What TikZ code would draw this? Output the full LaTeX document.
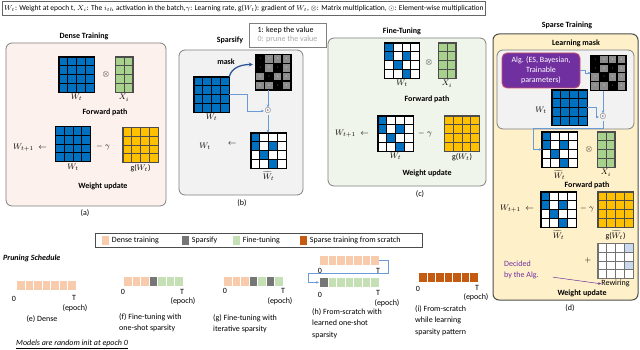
\documentclass[tikz,border=0pt]{standalone}
\usepackage{fontspec}
\setmainfont{Carlito}
\usepackage{amsmath,amssymb}
\usetikzlibrary{arrows.meta,calc,positioning}
\definecolor{wblue}{HTML}{0070C0}
\definecolor{xgreen}{HTML}{A9D18E}
\definecolor{gyellow}{HTML}{FFC000}
\definecolor{maskgray}{HTML}{8C8C8C}
\definecolor{rewblue}{HTML}{C9D9EE}
\definecolor{linkblue}{HTML}{6A9BD8}
\definecolor{maskblue}{HTML}{2F5597}
\definecolor{abg}{HTML}{FCF1EC}
\definecolor{bbg}{HTML}{F2F2F2}
\definecolor{cbg}{HTML}{EFF5EA}
\definecolor{dbg}{HTML}{FEF0C9}
\definecolor{algpurple}{HTML}{7030A0}
\definecolor{algedge}{HTML}{D0506A}
\definecolor{dense}{HTML}{F8CBAD}
\definecolor{spars}{HTML}{767676}
\definecolor{fine}{HTML}{C5E0B4}
\definecolor{scratch}{HTML}{C55A11}
% 4 rows of 8.75pt cells
\newcommand{\densemat}[5]{%
  \node[matnode, minimum width=#3*8.75pt, fill=#4] (#1) at #2 {};
  \draw[#5, step=8.75pt, shift={(#1.north west)}] (0,0) grid (#3*8.75pt,-35pt);
  \draw[#5, line width=0.8pt] (#1.north west) rectangle (#1.south east);
}
\newcommand{\sparsemat}[5]{%
  \node[matnode, minimum width=35pt, fill=white] (#1) at #2 {};
  \foreach \c/\r in {#3}
    \fill[#4] ($(#1.north west)+({(\c-1)*8.75pt},{-(\r-1)*8.75pt})$) rectangle ++(8.75pt,-8.75pt);
  \draw[#5, step=8.75pt, shift={(#1.north west)}] (0,0) grid (35pt,-35pt);
  \draw[#5, line width=0.8pt] (#1.north west) rectangle (#1.south east);
}
\newcommand{\maskmat}[3]{%
  \node[matnode, minimum width=35pt, fill=maskgray] (#1) at #2 {};
  \foreach \c in {1,...,4}
    \foreach \r in {1,...,4}
      \node[digit, text=white!80!maskgray] at ($(#1.north west)+({(\c-0.5)*8.75pt},{-(\r-0.5)*8.75pt})$) {0};
  \foreach \c/\r in {#3} {
    \fill[black] ($(#1.north west)+({(\c-1)*8.75pt},{-(\r-1)*8.75pt})$) rectangle ++(8.75pt,-8.75pt);
    \node[digit, text=gray!70] at ($(#1.north west)+({(\c-0.5)*8.75pt},{-(\r-0.5)*8.75pt})$) {1};
  }
  \draw[black, line width=1.2pt, step=8.75pt, shift={(#1.north west)}] (0,0) grid (35pt,-35pt);
  \draw[black, line width=1.2pt] (#1.north west) rectangle (#1.south east);
}
\newcommand{\schedbar}[4]{%
  \foreach \col [count=\k] in {#4}
    \node[slot, fill=\col] (#1-\k) at ({#2+(\k-1)*8.5},#3) {};
}

\begin{document}
\begin{tikzpicture}[x=1pt,y=-1pt,>=Stealth,font=\fontsize{8}{9.5}\selectfont,
  matnode/.style={inner sep=0pt, minimum height=35pt, draw=none},
  digit/.style={inner sep=0pt, font=\fontsize{2.5}{3}\selectfont},
  panel/.style={rounded corners=6pt, draw=black!50, line width=0.8pt},
  title/.style={font=\fontsize{8}{9.5}\selectfont\bfseries},
  lbl/.style={inner sep=1pt},
  conn/.style={draw=linkblue, line width=0.6pt, -{Stealth[length=3pt,width=2.6pt]}},
  slot/.style={anchor=north west, inner sep=0pt, minimum width=8.5pt, minimum height=10pt, draw=white, line width=0.7pt},
  keysq/.style={inner sep=0pt, minimum width=7pt, minimum height=9pt},
  caption/.style={anchor=north west, align=left, inner sep=0pt, font=\fontsize{8}{11.5}\selectfont}]
  \useasboundingbox (0,0) rectangle (640,350);

  % symbols
  \node[draw=black!60, anchor=west, minimum height=14pt, inner xsep=2pt, font=\fontsize{7.5}{8.5}\selectfont] (defs) at (2,8)
    {$W_t$: Weight at epoch t, $X_i$: The $i_{th}$ activation in the batch,$\gamma$: Learning rate, g($W_t$): gradient of $W_t$, $\otimes$: Matrix multiplication, $\odot$: Element-wise multiplication};

  % (a) dense training
  \draw[panel, fill=abg] (6,43) rectangle (166,206);
  \node[title] (ta) at (84,36) {Dense Training};
  \densemat{wa}{(76.5,74.5)}{4}{wblue}{black}
  \node (mula) at (106,75) {$\otimes$};
  \densemat{xa}{(124,74.5)}{2}{xgreen}{black!70}
  \node[lbl, below=1pt of wa] (lwa) {$W_t$};
  \node[lbl, below=1pt of xa] (lxa) {$X_i$};
  \node[title] (fpa) at (105,112) {Forward path};
  \node (wna) at (30,148) {$W_{t+1}\;\leftarrow$};
  \densemat{wa2}{(73,144)}{4}{wblue}{black}
  \node (mina) at (103,147) {$-\;\gamma$};
  \densemat{gya}{(140.5,145)}{4}{gyellow}{black!70}
  \node[lbl, below=1pt of wa2] (lwa2) {$W_t$};
  \node[lbl, below=1pt of gya] (lgya) {g($W_t$)};
  \node[title] (wua) at (103,186) {Weight update};
  \node (capa) at (85,213) {(a)};

  % (b) sparsify
  \draw[panel, fill=bbg] (179,50) rectangle (303,195);
  \node[title] (tb) at (230,40) {Sparsify};
  \node[draw=black!50, line width=0.6pt, align=left, inner sep=2pt, minimum width=77pt, minimum height=24pt] (keyb) at (287.5,35)
    {1: keep the value\\\textcolor{black!35}{0: prune the value}};
  \densemat{wb}{(211.5,94.5)}{4}{wblue}{black}
  \node[lbl, below=1pt of wb] (lwb) {$W_t$};
  \maskmat{mb}{(273.5,72.5)}{1/1,1/2,3/2,2/3,3/4}
  \node[title] (mlb) at (226,62) {mask};
  \node[inner sep=0.5pt] (ob) at (268,111) {$\odot$};
  \sparsemat{sb}{(268.5,150.5)}{1/1,1/2,3/2,2/3,3/4}{wblue}{black}
  \node[lbl, below=2.5pt of sb] (lsb) {$\widetilde{W}_t$};
  \node (wlb) at (205,146) {$W_t$};
  \node (arb) at (232,144) {$\leftarrow$};
  \node (capb) at (242,203) {(b)};
  \draw[conn] (wb.east) -- (247,94.5) |- (ob.west);
  \draw[conn] (ob |- mb.south) -- (ob.north);
  \draw[conn] (ob.south) -- (ob |- sb.north);
  \draw[maskblue, line width=1.3pt, -{Stealth[length=4pt,width=4pt]}] (wb.north east) to[out=75,in=180] ($(mb.west)+(-3pt,8pt)$);

  % (c) fine-tuning
  \draw[panel, fill=cbg] (328,38) rectangle (486,186);
  \node[title] (tc) at (402,31) {Fine-Tuning};
  \sparsemat{wc}{(402,60.5)}{1/1,1/2,3/2,2/3,3/4}{wblue}{black}
  \node (mulc) at (429,63) {$\otimes$};
  \densemat{xc}{(447,60.5)}{2}{xgreen}{black!70}
  \node[lbl, below=1pt of wc] (lwc) {$W_t$};
  \node[lbl, below=1pt of xc] (lxc) {$X_i$};
  \node[title] (fpc) at (427,99) {Forward path};
  \node (wnc) at (352,134) {$W_{t+1}\;\leftarrow$};
  \sparsemat{wc2}{(395.5,133.5)}{1/1,1/2,3/2,2/3,3/4}{wblue}{black}
  \node (minc) at (425,134) {$-\;\gamma$};
  \densemat{gc}{(462,133.5)}{4}{gyellow}{black!70}
  \node[lbl, below=1pt of wc2] (lwc2) {$W_t$};
  \node[lbl, below=1pt of gc] (lgc) {g($W_t$)};
  \node[title] (wuc) at (427,173) {Weight update};
  \node (capc) at (420,194) {(c)};

  % (d) sparse training
  \draw[panel, fill=dbg, draw=black!70, line width=1pt] (493,34) rectangle (638,300);
  \node[title] (td) at (567,25) {Sparse Training};
  \node[title] (tlm) at (576,43) {Learning mask};
  \draw[panel, fill=bbg] (497,50) rectangle (634,129);
  \node[fill=algpurple, draw=algedge, line width=0.8pt, rounded corners=5pt, text=white, align=center,
        minimum width=78pt, minimum height=35pt, inner sep=1pt, font=\fontsize{8}{10}\selectfont] (alg) at (541,70.5)
    {Alg. (ES, Bayesian,\\Trainable\\parameters)};
  \maskmat{md}{(608.5,73)}{1/1,1/2,3/2,2/3,3/4}
  \densemat{wd}{(569.5,107.5)}{4}{wblue}{black}
  \node (wld) at (541,110) {$W_t$};
  \node[inner sep=0.5pt] (od) at (603,117) {$\odot$};
  \draw[conn] (alg.east) -- (585,70.5) |- (md.west);
  \draw[conn] (wd.east) -- (596,107.5) |- (od.west);
  \draw[conn] (od |- md.south) -- (od.north);
  \sparsemat{sd}{(559.5,149.5)}{1/1,1/2,3/2,2/3,3/4}{wblue}{black}
  \coordinate (dturn) at (533,128);
  \draw[conn] (od.south) |- (dturn) |- (sd.west);
  \node (muld) at (589,149.5) {$\otimes$};
  \densemat{xd}{(606,149.5)}{2}{xgreen}{black!70}
  \node[lbl, below=2.5pt of sd] (lsd) {$\widetilde{W}_t$};
  \node[lbl, below=1pt of xd] (lxd) {$X_i$};
  \node[title] (fpd) at (587,185) {Forward path};
  \node (wnd) at (517,209) {$W_{t+1}\;\leftarrow$};
  \sparsemat{sd2}{(558.5,209.5)}{1/1,1/2,3/2,2/3,3/4}{wblue}{black}
  \node (mind) at (587,209) {$-\;\gamma$};
  \densemat{gd}{(615.5,209.5)}{4}{gyellow}{black!70}
  \node[lbl, below=2.5pt of sd2] (lsd2) {$\widetilde{W}_t$};
  \node[lbl, below=2.5pt of gd] (lgd) {g($\widetilde{W}_t$)};
  \node (plusd) at (588,260) {$+$};
  \sparsemat{rw}{(615.5,261)}{4/1,4/3}{rewblue}{black!55}
  \node[inner sep=0pt, below=1.5pt of rw] (lrw) {Rewiring};
  \node[text=algpurple, align=left, anchor=west, inner sep=0pt, font=\fontsize{8}{11}\selectfont] (dec) at (504,270) {Decided\\by the Alg.};
  \draw[algpurple, line width=0.5pt, -{Stealth[length=3pt,width=2.6pt]}] (dec.south east) ++(14pt,2pt) -- (lrw.west);
  \node[title] (wud) at (582,293) {Weight update};
  \node (capd) at (570,308) {(d)};

  % pruning schedule legend
  \node[draw=black!70, line width=0.6pt, anchor=north west, minimum width=327pt, minimum height=14pt] (skey) at (95,233) {};
  \node[keysq, fill=dense] (k1) at (105,240) {};
  \node[right=3pt of k1, inner sep=0pt] (kl1) {Dense training};
  \node[keysq, fill=spars] (k2) at (185,240) {};
  \node[right=3pt of k2, inner sep=0pt] (kl2) {Sparsify};
  \node[keysq, fill=fine] (k3) at (236,240) {};
  \node[right=3pt of k3, inner sep=0pt] (kl3) {Fine-tuning};
  \node[keysq, fill=scratch] (k4) at (303,240) {};
  \node[right=3pt of k4, inner sep=0pt] (kl4) {Sparse training from scratch};
  \node[anchor=west, inner sep=0pt, font=\fontsize{8}{9.5}\selectfont\bfseries\itshape] (ps) at (3,258) {Pruning Schedule};

  % schedules
  \schedbar{e}{16}{280}{dense,dense,dense,dense,dense,dense,dense}
  \node (e0) at (14,299) {0};
  \node (eT) at (74,298) {T};
  \node (eep) at (75,308) {(epoch)};
  \node (ecap) at (42,319) {(e) Dense};

  \schedbar{f}{123}{276}{dense,dense,dense,spars,fine,fine,fine}
  \node (f0) at (123,292) {0};
  \node (fT) at (182,292) {T};
  \node (fep) at (183,301) {(epoch)};
  \node[caption] (fcap) at (119,313) {(f) Fine-tuning with\\one-shot sparsity};

  \schedbar{g}{223}{276}{dense,dense,dense,spars,fine,spars,fine}
  \node (g0) at (225,291) {0};
  \node (gT) at (283,291) {T};
  \node (gep) at (280,301) {(epoch)};
  \node[caption] (gcap) at (213,314) {(g) Fine-tuning with\\iterative sparsity};

  \schedbar{h}{319}{255}{dense,dense,dense,dense,dense,dense,dense}
  \node (h0) at (320,271) {0};
  \node (hT) at (378,271) {T};
  \schedbar{hh}{319}{277}{spars,fine,fine,fine,fine,fine,fine}
  \coordinate (hturn) at (308,273);
  \draw[conn] (h-7.east) -- ++(9pt,0) |- (hturn) |- (hh-1.west);
  \node (hh0) at (320,295) {0};
  \node (hhT) at (378,293) {T};
  \node (hep) at (387,303) {(epoch)};
  \node[caption] (hcap) at (312,308) {(h) From-scratch with\\learned one-shot\\sparsity};

  \schedbar{i}{418}{272}{scratch,scratch,scratch,scratch,scratch,scratch,scratch}
  \node (i0) at (418,289) {0};
  \node (iT) at (477,288) {T};
  \node (iep) at (476,297) {(epoch)};
  \node[caption] (icap) at (415,305) {(i) From-scratch\\while learning\\sparsity pattern};

  \node[anchor=west, inner sep=0pt, font=\fontsize{8}{9.5}\selectfont\itshape] (note) at (16,344) {\underline{Models are random init at epoch 0}};
\end{tikzpicture}
\end{document}
